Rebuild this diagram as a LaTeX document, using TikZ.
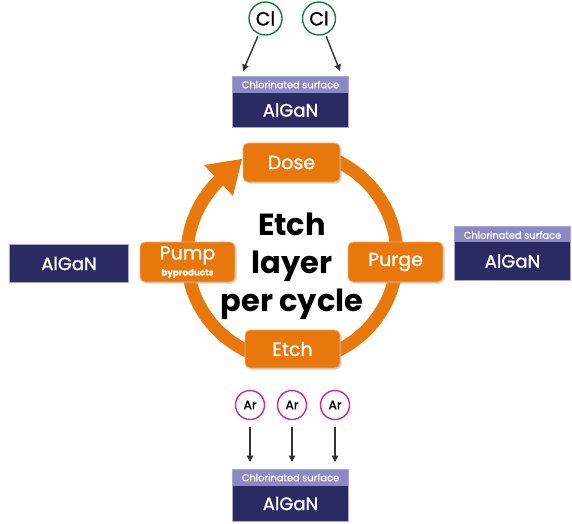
\documentclass[tikz,border=0pt]{standalone}
\usepackage{fontspec}
\setmainfont{Poppins}
\newfontfamily\medfont[FakeBold=1.2]{Poppins}
\usetikzlibrary{arrows.meta,shadows}
\definecolor{orng}{HTML}{E8770C}
\definecolor{navy}{HTML}{2B2A63}
\definecolor{lilac}{HTML}{8E88C4}
\definecolor{lilacedge}{HTML}{ABA6D6}
\definecolor{clgreen}{HTML}{1E7B3C}
\definecolor{armag}{HTML}{E0287A}
\definecolor{arrowgray}{HTML}{333333}
\tikzset{
  stepbox/.style={fill=orng, draw=orng!55!white, line width=0.8pt, rounded corners=5pt,
    text=white, font=\medfont\fontsize{19}{20}\selectfont, inner sep=0pt,
    drop shadow={shadow xshift=1.5pt, shadow yshift=-1.5pt, fill=black!35, opacity=0.5}},
  layerbox/.style={fill=navy, text=white, font=\medfont\fontsize{18}{19}\selectfont, inner sep=0pt, minimum width=115pt},
  surfband/.style={fill=lilac, text=white, font=\medfont\fontsize{9.8}{10}\selectfont, inner sep=0pt, minimum width=115pt, minimum height=16pt},
  frame/.style={draw=lilacedge, line width=1.2pt},
  atom/.style={circle, fill=white, line width=1.4pt, inner sep=0pt, text=black},
  feed/.style={draw=arrowgray, line width=1.4pt, -{Triangle[length=6.5pt,width=6.5pt]}}
}
\begin{document}
\begin{tikzpicture}[x=1pt,y=-1pt]
\useasboundingbox (0,0) rectangle (572,523);
\fill[white] (0,0) rectangle (572,523);

% ring
\draw[orng, line width=13pt] (292,256) ++(262:105) arc[start angle=262, end angle=586, radius=105];
\fill[orng] (242,159) -- (204,165) -- (233,196) -- cycle;

% step boxes
\node[stepbox, minimum width=97pt, minimum height=39pt] (dose) at (291.5,162.5) {Dose};
\node[stepbox, minimum width=95pt, minimum height=40pt] (purge) at (395.5,262) {Purge};
\node[stepbox, minimum width=95pt, minimum height=38pt] (etch) at (292.5,349) {Etch};
\node[stepbox, minimum width=95pt, minimum height=40pt, align=center] (pump) at (187.5,262)
  {\fontsize{19}{17}\selectfont Pump\\[-4pt]{\fontsize{8.7}{9}\selectfont\bfseries byproducts}};

% center text
\node[font=\fontsize{30.5}{38}\selectfont\bfseries, align=center, text=black] (title) at (292,266) {Etch\\layer\\per cycle};

% top stack
\node[surfband] (topsurf) at (290.5,84.5) {Chlorinated surface};
\node[layerbox, minimum height=35pt] (toplayer) at (290.5,110) {AlGaN};
\draw[frame] (topsurf.north west) rectangle (toplayer.south east);

% left
\node[layerbox, minimum width=118pt, minimum height=37pt] (leftlayer) at (69,263.5) {AlGaN};
\draw[frame] (leftlayer.north west) rectangle (leftlayer.south east);

% right stack
\node[surfband] (rightsurf) at (512.5,235) {Chlorinated surface};
\node[layerbox, minimum height=38pt] (rightlayer) at (512.5,261) {AlGaN};
\draw[frame] (rightsurf.north west) rectangle (rightlayer.south east);

% bottom stack
\node[surfband] (botsurf) at (290.5,477.5) {Chlorinated surface};
\node[layerbox, minimum height=35pt] (botlayer) at (290.5,503.5) {AlGaN};
\draw[frame] (botsurf.north west) rectangle (botlayer.south east);

% Cl atoms
\node[atom, draw=clgreen, minimum size=33pt, font=\medfont\fontsize{19}{20}\selectfont] (cl1) at (265.5,18.5) {Cl};
\node[atom, draw=clgreen, minimum size=33pt, font=\medfont\fontsize{19}{20}\selectfont] (cl2) at (319,18.5) {Cl};
\coordinate (cl1end) at (243,71);
\coordinate (cl2end) at (340,71);
\draw[feed, shorten <=2pt] (cl1) -- (cl1end);
\draw[feed, shorten <=2pt] (cl2) -- (cl2end);

% Ar atoms
\node[atom, draw=armag, minimum size=29pt, font=\medfont\fontsize{12.5}{13}\selectfont] (ar1) at (250,405) {Ar};
\node[atom, draw=armag, minimum size=29pt, font=\medfont\fontsize{12.5}{13}\selectfont] (ar2) at (292,405) {Ar};
\node[atom, draw=armag, minimum size=29pt, font=\medfont\fontsize{12.5}{13}\selectfont] (ar3) at (335,405) {Ar};
\coordinate (ar1end) at (250,462);
\coordinate (ar2end) at (292,462);
\coordinate (ar3end) at (335,462);
\draw[feed, shorten <=7pt] (ar1) -- (ar1end);
\draw[feed, shorten <=7pt] (ar2) -- (ar2end);
\draw[feed, shorten <=7pt] (ar3) -- (ar3end);
\end{tikzpicture}
\end{document}
